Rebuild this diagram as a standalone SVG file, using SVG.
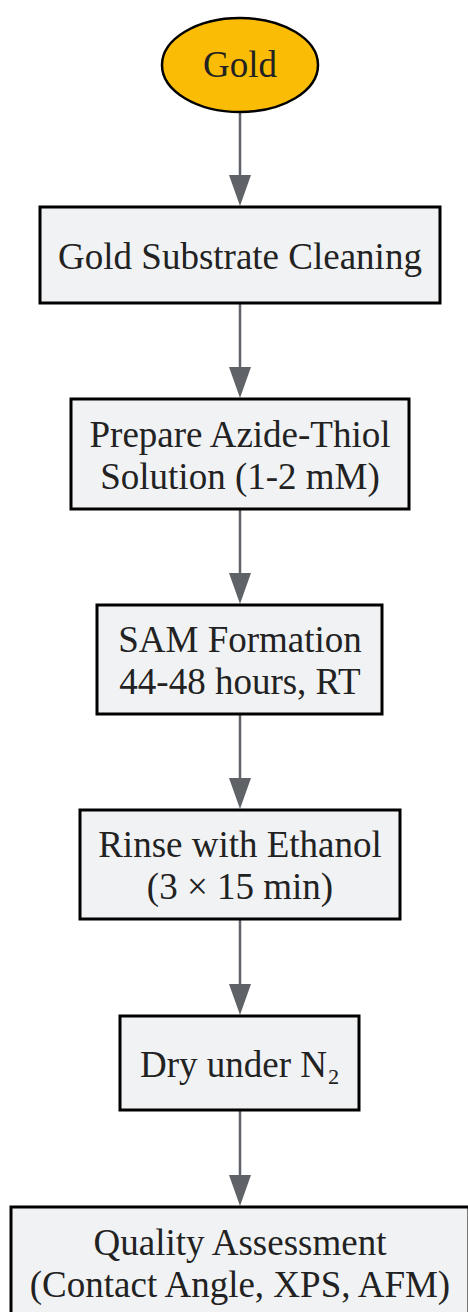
<svg xmlns="http://www.w3.org/2000/svg" width="468" height="1312" viewBox="0 0 468 1312">
<style>
.box{fill:#f1f2f4;stroke:#000;stroke-width:3}
.lbl{font-family:"Liberation Serif","Times New Roman","DejaVu Serif",serif;font-size:37px;fill:#222;text-anchor:middle}
.edge{stroke:#5f6368;stroke-width:2.5;fill:none}
.head{fill:#5f6368}
</style>
<rect width="468" height="1312" fill="#fff"/>
<g id="connectors">
<line class="edge" x1="240" y1="112" x2="240" y2="175"/><path class="head" d="M229,175 L251,175 L240,206 Z"/>
<line class="edge" x1="240" y1="303" x2="240" y2="367"/><path class="head" d="M229,367 L251,367 L240,398 Z"/>
<line class="edge" x1="240" y1="509" x2="240" y2="573"/><path class="head" d="M229,573 L251,573 L240,604 Z"/>
<line class="edge" x1="240" y1="714" x2="240" y2="778"/><path class="head" d="M229,778 L251,778 L240,809 Z"/>
<line class="edge" x1="240" y1="919" x2="240" y2="984"/><path class="head" d="M229,984 L251,984 L240,1015 Z"/>
<line class="edge" x1="240" y1="1110" x2="240" y2="1175"/><path class="head" d="M229,1175 L251,1175 L240,1206 Z"/>
</g>
<g id="gold">
<ellipse cx="240" cy="65" rx="78" ry="47" fill="#fbbc05" stroke="#000" stroke-width="2.5"/>
<text class="lbl" x="240" y="77">Gold</text>
</g>
<g id="cleaning">
<rect class="box" x="40" y="207" width="400" height="96"/>
<text class="lbl" x="240" y="269">Gold Substrate Cleaning</text>
</g>
<g id="prepare">
<rect class="box" x="71" y="399" width="338" height="110"/>
<text class="lbl" x="240" y="447">Prepare Azide-Thiol</text>
<text class="lbl" x="240" y="489">Solution (1-2 mM)</text>
</g>
<g id="sam">
<rect class="box" x="97" y="605" width="285" height="109"/>
<text class="lbl" x="240" y="652">SAM Formation</text>
<text class="lbl" x="240" y="694">44-48 hours, RT</text>
</g>
<g id="rinse">
<rect class="box" x="80" y="810" width="320" height="109"/>
<text class="lbl" x="240" y="857">Rinse with Ethanol</text>
<text class="lbl" x="240" y="899">(3 × 15 min)</text>
</g>
<g id="dry">
<rect class="box" x="120" y="1016" width="239" height="94"/>
<text class="lbl" x="240" y="1077">Dry under N₂</text>
</g>
<g id="quality">
<rect class="box" x="11" y="1207" width="458" height="112"/>
<text class="lbl" x="240" y="1255">Quality Assessment</text>
<text class="lbl" x="240" y="1297">(Contact Angle, XPS, AFM)</text>
</g>
</svg>
